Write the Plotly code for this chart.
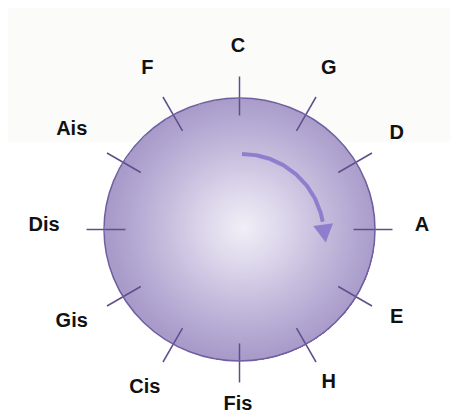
import numpy as np
import plotly.graph_objects as go

# ---- data: circle of fifths (German note names), clockwise from top ----
notes = ["C", "G", "D", "A", "E", "H", "Fis", "Cis", "Gis", "Dis", "Ais", "F"]
steps = list(range(12))          # position in the circle (one fifth per step)
step_deg = 30.0                  # 360 / 12

# ---- geometry / style (page pixels; the page body has an 8px margin) ----
W, H = 458, 414
OFF = 8
cx, cy = 239.5, 229.5            # circle centre
rx, ry = 135.5, 131.5            # circle radii
hx, hy = 243.0, 227.0            # highlight of the radial gradient
tick_in, tick_out = 114.0, 153.0
lcx, lcy, label_r = 238.0, 226.0, 179.0

fig = go.Figure()

# radial gradient disc
xs = np.arange(np.floor(cx - rx) - 1, np.ceil(cx + rx) + 2, 1.0)
ys = np.arange(np.floor(cy - ry) - 1, np.ceil(cy + ry) + 2, 1.0)
X, Y = np.meshgrid(xs, ys)
inside = ((X - cx) / rx) ** 2 + ((Y - cy) / ry) ** 2 <= 1.0
t = np.sqrt(((X - hx) / rx) ** 2 + ((Y - hy) / ry) ** 2)
t = np.clip(t, 0, 1)
z = np.where(inside, np.round(t, 3), np.nan)
fig.add_trace(go.Heatmap(
    x=xs, y=ys, z=z, zmin=0, zmax=1, showscale=False, hoverinfo="skip",
    colorscale=[[0.0, "#efeef6"], [0.08, "#ebe8f3"], [0.3, "#dcd6eb"],
                [0.55, "#c8bfde"], [0.8, "#b5aad3"], [1.0, "#a89ac9"]],
))

# tick marks
tx, ty = [], []
for s in steps:
    a = np.deg2rad(s * step_deg)
    for r in (tick_in, tick_out):
        tx.append(cx + r * np.sin(a))
        ty.append(cy - r * np.cos(a))
    tx.append(None)
    ty.append(None)
fig.add_trace(go.Scatter(x=tx, y=ty, mode="lines", hoverinfo="skip",
                         line=dict(color="#5e4f8c", width=1.5)))

# labels
lx, ly = [], []
for s, n in zip(steps, notes):
    a = np.deg2rad(s * step_deg)
    hw = 5.0 * len(n)
    r = label_r + hw * abs(np.sin(a))
    lx.append(lcx + r * np.sin(a))
    ly.append(lcy - r * np.cos(a))
fig.add_trace(go.Scatter(
    x=lx, y=ly, text=notes, mode="text", textposition="middle center",
    hoverinfo="skip",
    textfont=dict(family="Liberation Sans", size=20, color="#111111", weight="bold"),
))

# clockwise arrow
acx, acy, ar = 242.0, 236.0, 82.0
th = np.deg2rad(np.linspace(0, 80, 60))
fig.add_trace(go.Scatter(x=acx + ar * np.sin(th), y=acy - ar * np.cos(th),
                         mode="lines", hoverinfo="skip",
                         line=dict(color="#8e7fce", width=4)))
tb = np.deg2rad(82)
bx, by = acx + ar * np.sin(tb), acy - ar * np.cos(tb)
tgx, tgy = np.cos(tb), np.sin(tb)
px_, py_ = -tgy, tgx
head_x = [bx + 10 * px_, bx + 18 * tgx, bx - 10 * px_, bx + 10 * px_]
head_y = [by + 10 * py_, by + 18 * tgy, by - 10 * py_, by + 10 * py_]
fig.add_trace(go.Scatter(x=head_x, y=head_y, mode="lines", fill="toself",
                         fillcolor="#8e7fce", line=dict(width=0, color="#8e7fce"),
                         hoverinfo="skip"))

fig.update_layout(
    width=W - OFF, height=H - OFF, margin=dict(l=0, r=0, t=0, b=0),
    paper_bgcolor="white", plot_bgcolor="white", showlegend=False,
    xaxis=dict(range=[OFF, W], visible=False, fixedrange=True),
    yaxis=dict(range=[H, OFF], visible=False, fixedrange=True),
    shapes=[
        dict(type="rect", xref="x", yref="y", x0=OFF, x1=W, y0=OFF, y1=142,
             fillcolor="#fbfbfa", line=dict(width=0), layer="below"),
        dict(type="circle", xref="x", yref="y", x0=cx - rx, x1=cx + rx,
             y0=cy - ry, y1=cy + ry, line=dict(color="#6f5fa0", width=1.5),
             fillcolor="rgba(0,0,0,0)", layer="above"),
    ],
)

fig.write_html("out.html", config={"displayModeBar": False})
